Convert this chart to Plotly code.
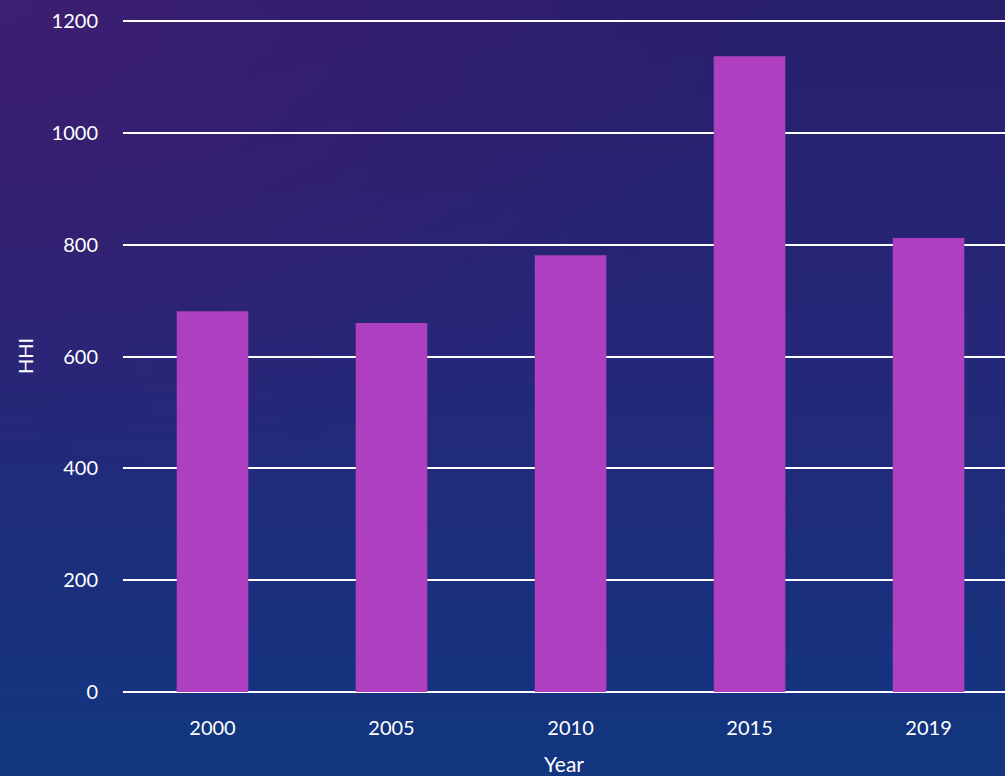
import base64, struct, zlib
import numpy as np
import plotly.graph_objects as go

years = ["2000", "2005", "2010", "2015", "2019"]
hhi = [681, 660, 781, 1137, 812]
y_ticks = [0, 200, 400, 600, 800, 1000, 1200]

W, H = 1005, 776
ML, MR, MT, MB = 123, 0, 20, 84


def make_png(arr):
    h, w, _ = arr.shape
    raw = b"".join(b"\x00" + arr[i].tobytes() for i in range(h))
    def chunk(t, d):
        c = struct.pack(">I", len(d)) + t + d
        return c + struct.pack(">I", zlib.crc32(t + d) & 0xffffffff)
    png = b"\x89PNG\r\n\x1a\n" + chunk(b"IHDR", struct.pack(">IIBBBBB", w, h, 8, 2, 0, 0, 0))
    png += chunk(b"IDAT", zlib.compress(raw, 9)) + chunk(b"IEND", b"")
    return "data:image/png;base64," + base64.b64encode(png).decode()


# background gradient (purple top-left -> navy -> blue bottom)
gw, gh = 100, 78
xs = np.linspace(0, 1, gw)[None, :]
ys = np.linspace(0, 1, gh)[:, None]
top = np.array([40, 31, 108], float)
mid = np.array([38, 40, 122], float)
bot = np.array([18, 54, 128], float)
purple = np.array([62, 30, 114], float)
t = ys
col = np.where(t[..., None] < 0.45,
               top + (mid - top) * (t[..., None] / 0.45),
               mid + (bot - mid) * ((t[..., None] - 0.45) / 0.55))
col = np.broadcast_to(col, (gh, gw, 3)).copy()
wgt = np.clip(1 - np.sqrt((xs * 1.3) ** 2 + (ys * 1.6) ** 2), 0, 1)[..., None]
col = col * (1 - wgt) + purple * wgt
img = make_png(np.clip(col, 0, 255).astype(np.uint8))

pw = W - ML - MR
ph = H - MT - MB

fig = go.Figure(go.Bar(x=years, y=hhi, marker=dict(color="#AD3FC0", line=dict(width=0)),
                       width=0.4))

fig.add_layout_image(dict(source=img, xref="paper", yref="paper",
                          x=-ML / pw, y=1 + MT / ph, sizex=W / pw, sizey=H / ph,
                          xanchor="left", yanchor="top", sizing="stretch",
                          layer="below"))

font = "Lato, 'Open Sans', sans-serif"
fig.update_layout(
    width=W, height=H,
    margin=dict(l=ML, r=MR, t=MT, b=MB, pad=0),
    paper_bgcolor="#22226e", plot_bgcolor="rgba(0,0,0,0)",
    showlegend=False,
    font=dict(family=font, color="white", size=20),
)
fig.update_xaxes(type="category", range=[-0.5, 4.427], showgrid=False,
                 showline=False, ticks="outside", ticklen=18,
                 tickcolor="rgba(0,0,0,0)", tickfont=dict(size=20),
                 title=dict(text="Year", font=dict(size=21), standoff=20))
fig.update_yaxes(range=[0, 1202], tickvals=y_ticks, showgrid=True,
                 gridcolor="white", gridwidth=2, zeroline=True,
                 zerolinecolor="white", zerolinewidth=2, showline=False,
                 ticks="outside", ticklen=20, tickcolor="rgba(0,0,0,0)",
                 tickfont=dict(size=20),
                 title=dict(text="HHI", font=dict(size=20), standoff=12))

fig.write_html("out.html")
